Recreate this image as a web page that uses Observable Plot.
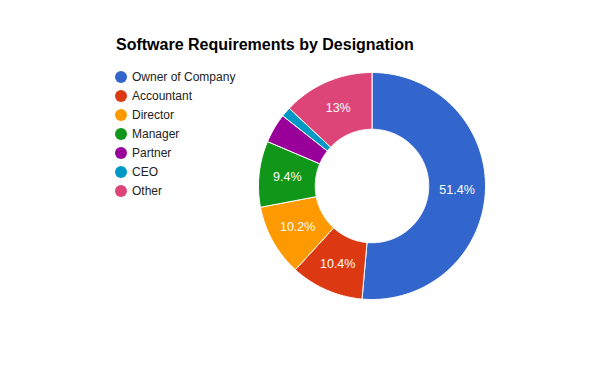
<!DOCTYPE html>
<html>
<head>
<meta charset="utf-8">
<script src="https://cdn.jsdelivr.net/npm/d3@7"></script>
<script src="https://cdn.jsdelivr.net/npm/@observablehq/plot@0.6"></script>
<style>
  html, body { margin: 0; padding: 0; background: #fff; }
  #wrap { position: relative; width: 600px; height: 371px; overflow: hidden; font-family: Arial, "Liberation Sans", sans-serif; }
  #title { position: absolute; left: 116px; top: 37px; font-size: 16px; line-height: 16px; font-weight: bold; color: #000; white-space: nowrap; }
  .item { position: absolute; left: 115px; height: 19px; display: flex; align-items: center; font-size: 12px; color: #222; white-space: nowrap; }
  .sw { width: 12px; height: 12px; border-radius: 50%; margin-right: 5px; flex: none; }
  #chart { position: absolute; left: 0; top: 0; }
</style>
</head>
<body>
<div id="wrap">
  <div id="chart"></div>
  <div id="title"></div>
  <div id="legend"></div>
</div>
<script>
const title = "Software Requirements by Designation";
const categories = ["Owner of Company", "Accountant", "Director", "Manager", "Partner", "CEO", "Other"];
const percents = [51.4, 10.4, 10.2, 9.4, 4.2, 1.4, 13];
const colors = ["#3366cc", "#dc3912", "#ff9900", "#109618", "#990099", "#0099c6", "#dd4477"];
const labelThreshold = 5;

document.getElementById("title").textContent = title;

const legend = document.getElementById("legend");
categories.forEach((c, i) => {
  const d = document.createElement("div");
  d.className = "item";
  d.style.top = (67.2 + 19 * i) + "px";
  const s = document.createElement("span");
  s.className = "sw";
  s.style.background = colors[i];
  const t = document.createElement("span");
  t.textContent = c;
  d.appendChild(s); d.appendChild(t);
  legend.appendChild(d);
});

const data = categories.map((name, i) => ({name, value: percents[i], color: colors[i]}));
const pie = d3.pie().value(d => d.value).sort(null)(data);
const inner = 0.5, outer = 1;
const pts = [];
pie.forEach(a => {
  const n = Math.max(4, Math.ceil((a.endAngle - a.startAngle) * 60));
  const ring = [];
  for (let k = 0; k <= n; k++) {
    const t = a.startAngle + (a.endAngle - a.startAngle) * k / n;
    ring.push([outer * Math.sin(t), outer * Math.cos(t)]);
  }
  for (let k = n; k >= 0; k--) {
    const t = a.startAngle + (a.endAngle - a.startAngle) * k / n;
    ring.push([inner * Math.sin(t), inner * Math.cos(t)]);
  }
  ring.push(ring[0]);
  ring.forEach(([x, y]) => pts.push({name: a.data.name, color: a.data.color, x, y}));
});
const labels = pie.filter(a => a.data.value >= labelThreshold).map(a => {
  const m = (a.startAngle + a.endAngle) / 2, r = (inner + outer) / 2;
  return {x: r * Math.sin(m), y: r * Math.cos(m), text: `${a.data.value}%`};
});

const plot = Plot.plot({
  width: 600,
  height: 371,
  margin: 0,
  x: {domain: [-1, 1], range: [258, 485], axis: null},
  y: {domain: [-1, 1], range: [299, 72], axis: null},
  color: {type: "identity"},
  style: {fontFamily: "Arial, 'Liberation Sans', sans-serif", background: "transparent"},
  marks: [
    Plot.line(pts, {x: "x", y: "y", z: "name", fill: "color", stroke: "white", strokeWidth: 1, curve: "linear"}),
    Plot.text(labels, {x: "x", y: "y", text: "text", fill: "white", fontSize: 12.5})
  ]
});
document.getElementById("chart").appendChild(plot);
</script>
</body>
</html>
